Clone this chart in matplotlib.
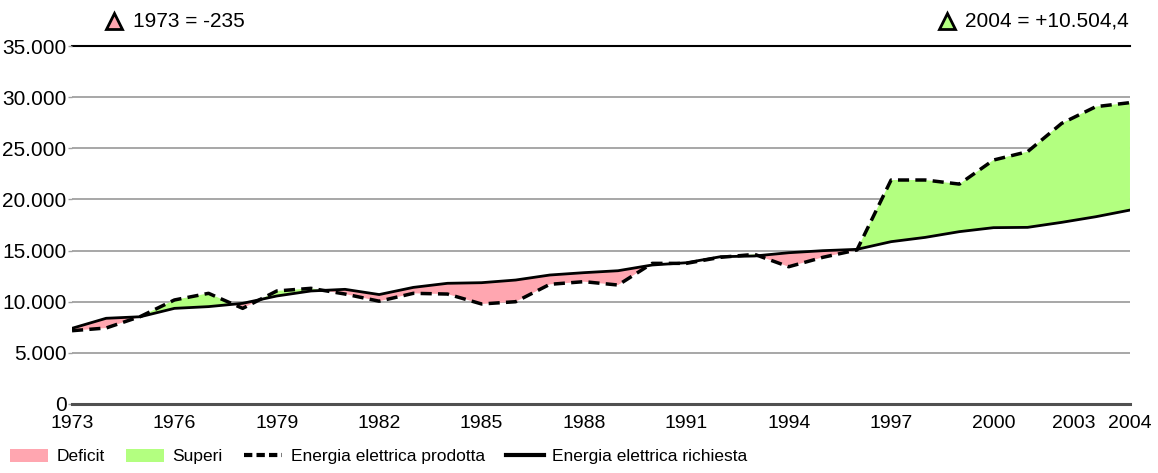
import numpy as np
import matplotlib
matplotlib.use("Agg")
from matplotlib import pyplot as plt
from matplotlib.patches import Patch
from matplotlib.lines import Line2D
from matplotlib.ticker import FuncFormatter

plt.rcParams['font.family'] = ['Liberation Sans Narrow', 'Liberation Sans', 'DejaVu Sans']

years = list(range(1973, 2005))
richiesta = [7400, 8380, 8530, 9350, 9520, 9840, 10560, 11050, 11210, 10700,
             11400, 11800, 11860, 12120, 12610, 12840, 13030, 13590, 13810, 14400,
             14470, 14790, 14990, 15120, 15870, 16290, 16850, 17240, 17270, 17760,
             18310, 18960]
prodotta = [7165, 7430, 8550, 10170, 10820, 9350, 11050, 11310, 10750, 10050,
            10820, 10750, 9780, 10000, 11700, 11960, 11630, 13750, 13750, 14340,
            14630, 13420, 14340, 15060, 21900, 21900, 21500, 23850, 24670, 27440,
            29070, 29464]
xtick_years = [1973, 1976, 1979, 1982, 1985, 1988, 1991, 1994, 1997, 2000, 2003, 2004]
yticks = [0, 5000, 10000, 15000, 20000, 25000, 30000, 35000]
note_left = "1973 = -235"
note_right = "2004 = +10.504,4"

pink = '#ffa6b0'
green = '#b3ff80'

x = np.array(years)
r = np.array(richiesta)
p = np.array(prodotta)

fig = plt.figure(figsize=(11.58, 4.73), dpi=100)
ax = fig.add_axes([0.0622, 0.1459, 0.9136, 0.7568])

ax.fill_between(x, r, p, where=p < r, interpolate=True, color=pink, lw=0)
ax.fill_between(x, r, p, where=p > r, interpolate=True, color=green, lw=0)
ax.plot(x, r, color='black', lw=2)
ax.plot(x, p, color='black', lw=2.5, dashes=(3.2, 1.8))

ax.set_xlim(1973, 2004)
ax.set_ylim(0, 35000)
ax.set_yticks(yticks)
ax.set_xticks(xtick_years)
ax.yaxis.set_major_formatter(FuncFormatter(lambda v, pos: f"{int(v):,}".replace(",", ".")))

for v in yticks[1:-1]:
    ax.axhline(v, color='#a0a0a0', lw=1.3, zorder=0)
ax.axhline(35000, color='black', lw=1.5, zorder=0, clip_on=False)

for s in ['top', 'right', 'left']:
    ax.spines[s].set_visible(False)
ax.spines['bottom'].set_color('#505050')
ax.spines['bottom'].set_linewidth(2.2)

ax.tick_params(axis='x', length=0, pad=8, labelsize=14)
ax.tick_params(axis='y', length=3, width=1, color='#a0a0a0', pad=1, labelsize=15)

# keep 2003 and 2004 apart
for lab in ax.get_xticklabels():
    if lab.get_text() == "2003":
        lab.set_horizontalalignment('right')
        lab.set_x(2003.7)

# annotations on top
ax.plot([0.0985], [0.955], marker='^', ms=12, mfc=pink, mec='black', mew=2,
        transform=fig.transFigure, clip_on=False)
fig.text(0.115, 0.955, note_left, fontsize=15, va='center', ha='left')
ax.plot([0.818], [0.955], marker='^', ms=12, mfc=green, mec='black', mew=2,
        transform=fig.transFigure, clip_on=False)
fig.text(0.975, 0.955, note_right, fontsize=15, va='center', ha='right')

handles = [
    Patch(facecolor=pink, edgecolor='none'),
    Patch(facecolor=green, edgecolor='none'),
    Line2D([0], [0], color='black', lw=3, dashes=(2, 1)),
    Line2D([0], [0], color='black', lw=3),
]
labels = ["Deficit", "Superi", "Energia elettrica prodotta", "Energia elettrica richiesta"]
fig.legend(handles, labels, loc='lower left', bbox_to_anchor=(-0.005, -0.015), ncol=4,
           frameon=False, fontsize=12.5, handlelength=2.2, handleheight=0.8,
           handletextpad=0.5, columnspacing=1.2)

fig.savefig("out.png")
